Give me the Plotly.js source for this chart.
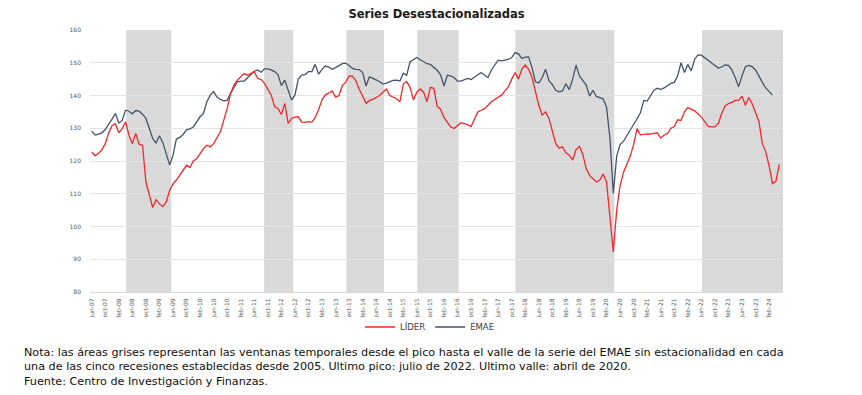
<!DOCTYPE html>
<html>
<head>
<meta charset="utf-8">
<script src="https://cdn.plot.ly/plotly-3.0.1.min.js"></script>
<style>html,body{margin:0;padding:0;background:#fff;}</style>
</head>
<body>
<div id="chart" style="width:862px;height:395px;"></div>
<script>
// Tick labels every 4 months, starting jun-07 (month index 0)
const tickLabels = ['jun-07','oct-07','feb-08','jun-08','oct-08','feb-09','jun-09','oct-09','feb-10','jun-10','oct-10','feb-11','jun-11','oct-11','feb-12','jun-12','oct-12','feb-13','jun-13','oct-13','feb-14','jun-14','oct-14','feb-15','jun-15','oct-15','feb-16','jun-16','oct-16','feb-17','jun-17','oct-17','feb-18','jun-18','oct-18','feb-19','jun-19','oct-19','feb-20','jun-20','oct-20','feb-21','jun-21','oct-21','feb-22','jun-22','oct-22','feb-23','jun-23','oct-23','feb-24'];

// EMAE desestacionalizado, monthly from jun-07
const emae = [
129.1,127.9,128.2,128.6,129.6,131.1,132.8,134.5,131.6,132.4,
135.5,135.2,134.4,135.4,135.2,134.3,133.0,130.0,126.9,125.5,
127.7,125.6,122.3,118.8,121.7,126.7,127.2,128.1,129.5,129.8,
130.4,132.0,133.5,134.5,138.1,140.1,141.2,139.5,138.8,138.4,
138.5,140.6,142.5,144.2,144.4,144.4,145.4,146.4,147.4,147.8,
147.1,148.1,148.1,147.8,147.3,146.4,143.0,144.7,141.7,138.6,
140.1,145.0,146.2,146.4,147.3,147.3,149.5,146.5,148.0,149.0,
148.7,148.0,148.5,149.0,149.7,149.9,149.2,148.3,148.0,147.9,
147.0,142.9,145.7,145.3,144.8,144.2,143.5,143.8,144.3,144.6,
144.7,144.4,146.8,146.2,150.3,151.0,151.6,150.9,150.2,149.7,
149.5,148.7,147.7,146.3,142.9,146.2,146.0,145.5,144.4,144.4,
144.8,145.2,144.9,145.6,146.4,147.0,146.2,145.5,147.8,149.4,
150.8,150.6,150.7,151.0,151.6,153.1,152.7,151.3,151.7,151.8,
148.5,144.2,143.8,145.5,148.0,144.5,143.3,141.6,141.1,141.4,
143.6,141.8,145.0,149.3,146.0,144.5,143.2,139.8,141.6,139.7,
139.4,139.0,136.5,127.0,110.1,121.5,125.0,126.0,127.7,129.3,
130.9,132.9,134.7,138.5,138.3,140.0,141.6,142.2,141.9,142.3,
142.9,143.7,144.0,146.0,150.0,147.0,149.5,147.5,151.0,152.4,
152.3,151.5,150.7,149.8,149.0,148.4,148.7,149.3,149.2,147.8,
145.5,142.7,146.0,148.8,149.2,148.8,147.8,145.7,144.0,142.3,
141.1,140.1];

// Índice LÍDER, monthly from jun-07
const lider = [
122.8,121.6,122.4,123.4,125.3,128.5,130.8,131.4,128.6,129.9,
132.0,127.9,125.3,128.4,125.1,124.8,113.6,110.0,105.8,108.2,
106.9,106.1,107.5,111.0,113.0,114.2,115.8,117.2,118.7,118.0,
120.0,120.7,122.2,123.8,124.8,124.3,125.3,126.9,128.9,132.5,
136.0,140.6,143.2,144.7,145.7,146.7,146.2,146.7,147.3,145.2,
144.9,143.7,141.7,140.1,136.6,136.0,134.2,137.6,131.5,133.0,
133.4,133.5,131.9,131.8,132.0,131.9,133.3,135.7,138.7,140.2,
140.7,141.4,139.5,140.0,143.0,144.1,146.0,145.9,144.5,141.8,
139.8,137.6,138.5,138.8,139.4,140.0,141.0,142.0,140.0,139.6,
139.0,138.1,143.5,144.2,142.5,138.6,141.0,142.0,141.0,138.1,
142.5,142.2,136.7,135.8,133.3,131.8,130.4,129.9,130.8,131.7,
131.4,131.1,130.5,132.6,135.0,135.5,136.0,137.0,138.1,138.8,
139.4,140.1,141.4,142.6,145.0,147.0,145.0,148.1,149.3,148.0,
145.5,141.0,137.0,134.0,135.0,133.0,129.0,125.3,123.9,124.3,
122.5,121.8,120.3,123.5,124.5,122.0,117.6,115.6,114.6,113.6,
114.2,116.0,113.6,102.8,92.2,105.0,112.5,116.5,119.0,121.5,
125.0,129.9,128.0,128.2,128.3,128.2,128.4,128.6,127.0,127.9,
128.4,130.0,130.5,132.6,132.4,135.0,136.3,135.8,135.3,134.4,
133.4,132.0,130.6,130.4,130.4,131.5,134.5,136.8,137.5,137.9,
138.5,138.5,139.8,137.0,139.4,137.5,135.0,132.0,125.3,122.8,
118.5,113.1,113.8,119.0];

// Recession windows (peak -> trough), in months since jun-07
const recessionFrom = [10.2, 50.9, 75.2, 96.1, 125.1, 180.2];
const recessionTo   = [23.5, 59.5, 86.3, 108.3, 154.3, 204.1];

const notes = [
  'Nota: las áreas grises representan las ventanas temporales desde el pico hasta el valle de la serie del EMAE sin estacionalidad en cada',
  'una de las cinco recesiones establecidas desde 2005. Ultimo pico: julio de 2022. Ultimo valle: abril de 2020.',
  'Fuente: Centro de Investigación y Finanzas.'
];

const tickVals = tickLabels.map((_, i) => i * 4);
const idx = arr => arr.map((_, i) => i);

const traces = [
  {x: idx(emae), y: emae, name: 'EMAE', type: 'scatter', mode: 'lines',
   line: {color: '#44546A', width: 1.3}, hoverinfo: 'y'},
  {x: idx(lider), y: lider, name: 'LÍDER', type: 'scatter', mode: 'lines',
   line: {color: '#F2282A', width: 1.3}, hoverinfo: 'y'}
];

const shapes = recessionFrom.map((f, i) => ({
  type: 'rect', xref: 'x', yref: 'paper', x0: f, x1: recessionTo[i], y0: 0, y1: 1,
  fillcolor: '#D9D9D9', line: {width: 0}, layer: 'between'
}));

const W = 862, H = 395, L = 90, R = 79, T = 30, B = 103;
const pw = W - L - R, ph = H - T - B;
const noteY = [352, 366.5, 381];
const annotations = notes.map((t, i) => ({
  text: t, xref: 'paper', yref: 'paper', x: (22 - L) / pw, y: (H - B - noteY[i]) / ph,
  xanchor: 'left', yanchor: 'middle', showarrow: false, align: 'left',
  font: {family: 'DejaVu Sans', size: 11.2, color: '#111111'}
}));

const layout = {
  width: W, height: H,
  margin: {l: L, r: R, t: T, b: B},
  paper_bgcolor: '#ffffff', plot_bgcolor: '#ffffff',
  title: {text: 'Series Desestacionalizadas', xref: 'paper', x: 0.5, xanchor: 'center',
          yref: 'container', y: 1 - 14 / H, yanchor: 'middle',
          font: {family: 'DejaVu Sans', size: 11.5, color: '#1a1a1a', weight: 'bold'}},
  xaxis: {range: [-0.5, 204.1], tickmode: 'array', tickvals: tickVals, ticktext: tickLabels,
          tickangle: -90, tickfont: {family: 'DejaVu Sans', size: 6, color: '#595959'},
          showgrid: false, zeroline: false, showline: true, linecolor: '#D9D9D9', linewidth: 1,
          ticks: '', ticklabelstandoff: 3, automargin: false, fixedrange: true},
  yaxis: {range: [80, 160], dtick: 10, tick0: 80, tickfont: {family: 'DejaVu Sans', size: 6, color: '#595959'},
          showgrid: true, gridcolor: '#E4E4E4', gridwidth: 1, zeroline: false, showline: false,
          ticks: '', ticklabelstandoff: 8, automargin: false, fixedrange: true},
  showlegend: true,
  legend: {orientation: 'h', x: (430 - L) / pw, xanchor: 'center', y: (H - B - 327) / ph, yanchor: 'middle',
           traceorder: 'reversed', font: {family: 'DejaVu Sans', size: 8.5, color: '#404040'},
           bgcolor: 'rgba(0,0,0,0)', itemwidth: 30},
  shapes: shapes,
  annotations: annotations
};

Plotly.newPlot('chart', traces, layout, {displayModeBar: false, staticPlot: true});
</script>
</body>
</html>
